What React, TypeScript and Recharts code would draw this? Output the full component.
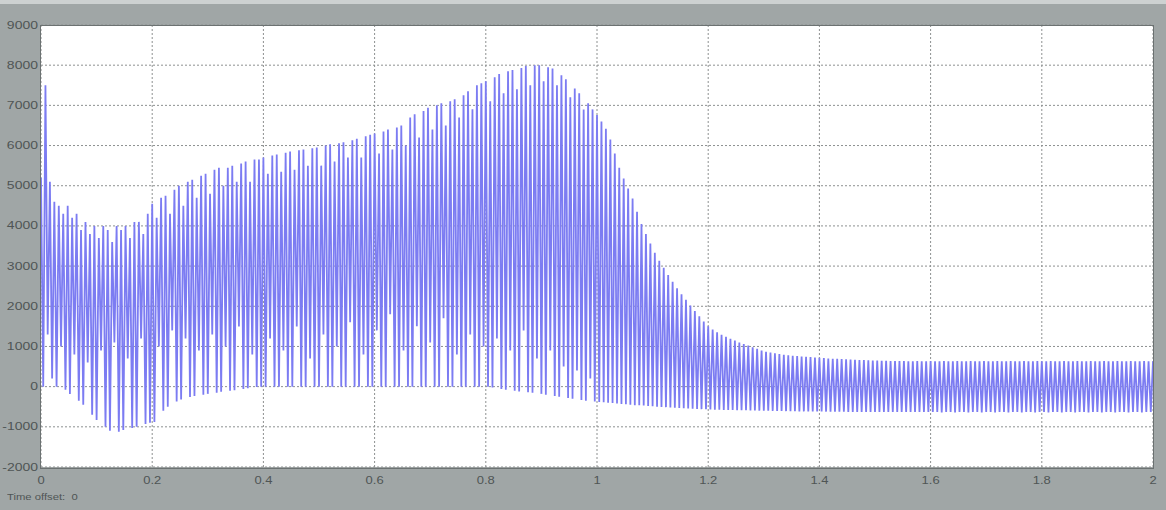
import { CartesianGrid, Line, LineChart, XAxis, YAxis } from "recharts";

const xTicks = [0, 0.2, 0.4, 0.6, 0.8, 1, 1.2, 1.4, 1.6, 1.8, 2];
const yTicks = [-2000, -1000, 0, 1000, 2000, 3000, 4000, 5000, 6000, 7000, 8000, 9000];

// one oscillation every 0.008 s: peak at i*period, trough half a period later
const period = 0.008;

// 25 peaks per row = 0.2 s
const peakValues = [
  5200, 7500, 5100, 4600, 4500, 4300, 4500, 4200, 4300, 3900, 4100, 3800, 4000, 3700, 4000, 3900, 3600, 4000, 3900, 4000, 3700, 4100, 4100, 3800, 4300,
  4550, 4200, 4700, 4750, 4300, 4900, 5000, 4500, 5100, 5150, 4700, 5250, 5300, 4800, 5400, 5450, 5000, 5450, 5500, 5100, 5550, 5600, 5100, 5650, 5650,
  5700, 5300, 5750, 5780, 5350, 5820, 5850, 5400, 5880, 5900, 5500, 5930, 5950, 5500, 6000, 6030, 5600, 6060, 6080, 5700, 6130, 6170, 5700, 6230, 6270,
  6300, 5800, 6350, 6400, 5900, 6450, 6500, 6000, 6700, 6780, 6200, 6860, 6940, 6400, 7000, 7050, 6500, 7100, 7150, 6700, 7250, 7350, 6900, 7500, 7550,
  7600, 7100, 7700, 7780, 7300, 7850, 7880, 7400, 7930, 7980, 7500, 8000, 8000, 7600, 7950, 7920, 7500, 7750, 7650, 7200, 7420, 7300, 6900, 7050, 6900,
  6760, 6600, 6420, 6150, 5800, 5450, 5180, 4930, 4680, 4350, 4050, 3800, 3560, 3330, 3130, 2960, 2780, 2610, 2450, 2300, 2160, 2020, 1880, 1750, 1620,
  1500, 1420, 1350, 1290, 1240, 1190, 1150, 1100, 1060, 1020, 980, 940, 900, 870, 850, 830, 810, 795, 780, 770, 760, 750, 740, 735, 725,
  715, 710, 700, 695, 690, 685, 680, 675, 670, 665, 660, 655, 650, 650, 645, 645, 640, 640, 635, 635, 630, 630, 640, 630, 630,
  640, 630, 630, 640, 630, 630, 640, 630, 630, 640, 630, 630, 640, 630, 630, 640, 630, 630, 640, 630, 630, 640, 630, 630, 640,
  630, 630, 640, 630, 630, 640, 630, 630, 640, 630, 630, 640, 630, 630, 640, 630, 630, 640, 630, 630, 640, 630, 630, 640, 630,
  630,
];

const troughValues = [
  0, 1300, 200, 0, 1000, -80, -180, 800, -350, -450, 600, -700, -830, 900, -1000, -1100, 1100, -1120, -1080, 700, -1030, -1000, 1200, -930, -900,
  -880, 1000, -600, -500, 1400, -370, -320, 1200, -260, -230, 900, -200, -180, 1300, -150, -130, 1000, -100, -90, 1500, -60, -40, 800, -10, 0,
  0, 1200, 0, 0, 900, 0, 0, 1500, 0, 0, 700, 0, 0, 1300, 0, 0, 1000, 0, 0, 1600, 0, 0, 800, 0, 0,
  1400, 0, 0, 1800, 0, 0, 900, 0, 0, 1500, 0, 0, 1100, 0, 0, 1700, 0, 0, 800, 0, 0, 1300, 0, 0, 1000,
  0, -20, 1200, -60, -80, 900, -100, -120, 1400, -140, -150, 700, -180, -200, 900, -230, -250, 500, -280, -300, 400, -330, -350, 200, -370,
  -380, -390, -400, -410, -420, -430, -440, -450, -460, -465, -470, -480, -490, -500, -505, -510, -520, -525, -530, -540, -545, -550, -555, -560, -565,
  -570, -572, -575, -578, -580, -583, -585, -588, -590, -592, -595, -597, -600, -602, -604, -606, -608, -610, -612, -614, -615, -616, -617, -618, -620,
  -620, -622, -624, -625, -626, -627, -628, -630, -630, -630, -630, -630, -630, -630, -630, -630, -630, -630, -630, -630, -630, -630, -630, -630, -630,
  -630, -630, -640, -630, -630, -640, -630, -630, -640, -630, -630, -640, -630, -630, -640, -630, -630, -640, -630, -630, -640, -630, -630, -640, -630,
  -630, -640, -630, -630, -640, -630, -630, -640, -630, -630, -640, -630, -630, -640, -630, -630, -640, -630, -630, -640, -630, -630, -640, -630, -630,
];

const signal: { t: number; v: number }[] = [];
peakValues.forEach((peak, i) => {
  signal.push({ t: i * period, v: peak });
  if (i < troughValues.length) {
    signal.push({ t: (i + 0.5) * period, v: troughValues[i] });
  }
});

const labelColor = "#4f5555";

function YTick({ y, payload }: any) {
  return (
    <text
      transform={`translate(38,${y + 3.5}) scale(1.4,1)`}
      textAnchor="end"
      fill={labelColor}
      fontSize={10}
      fontFamily="Liberation Sans, Arial, sans-serif"
    >
      {payload.value}
    </text>
  );
}

function XTick({ x, payload }: any) {
  return (
    <text
      transform={`translate(${x},484) scale(1.3,1)`}
      textAnchor="middle"
      fill={labelColor}
      fontSize={10}
      fontFamily="Liberation Sans, Arial, sans-serif"
    >
      {payload.value}
    </text>
  );
}

export default function App() {
  return (
    <div
      style={{
        position: "absolute",
        left: 0,
        top: 0,
        width: 1166,
        height: 510,
        background: "#a0a6a6",
        borderTop: "4px solid #cdd1d1",
        boxSizing: "border-box",
      }}
    >
      <div style={{ position: "absolute", left: 0, top: -4 }}>
        <LineChart
          width={1166}
          height={510}
          data={signal}
          margin={{ top: 25, right: 13, bottom: 23, left: 0 }}
        >
          <CartesianGrid
            fill="#ffffff"
            fillOpacity={1}
            stroke="#8d9090"
            strokeDasharray="2 2"
            horizontalValues={yTicks}
            verticalValues={xTicks}
          />
          <XAxis
            type="number"
            dataKey="t"
            domain={[0, 2]}
            ticks={xTicks}
            axisLine={false}
            tickLine={false}
            height={20}
            tick={<XTick />}
            interval={0}
          />
          <YAxis
            type="number"
            domain={[-2000, 9000]}
            ticks={yTicks}
            axisLine={false}
            tickLine={false}
            width={41}
            tick={<YTick />}
            interval={0}
          />
          <Line
            type="linear"
            dataKey="v"
            stroke="#7c7cf2"
            strokeWidth={1.8}
            strokeLinejoin="miter"
            dot={false}
            isAnimationActive={false}
          />
        </LineChart>
      </div>
      <div
        style={{
          position: "absolute",
          left: 40,
          top: 21,
          width: 1112,
          height: 442,
          border: "1px solid #6c7272",
          pointerEvents: "none",
        }}
      />
      <div
        style={{
          position: "absolute",
          left: 7,
          top: 488,
          fontSize: 9,
          fontFamily: "Liberation Sans, Arial, sans-serif",
          color: labelColor,
          transform: "scaleX(1.25)",
          transformOrigin: "left",
          whiteSpace: "pre",
        }}
      >
        {"Time offset:  0"}
      </div>
    </div>
  );
}
